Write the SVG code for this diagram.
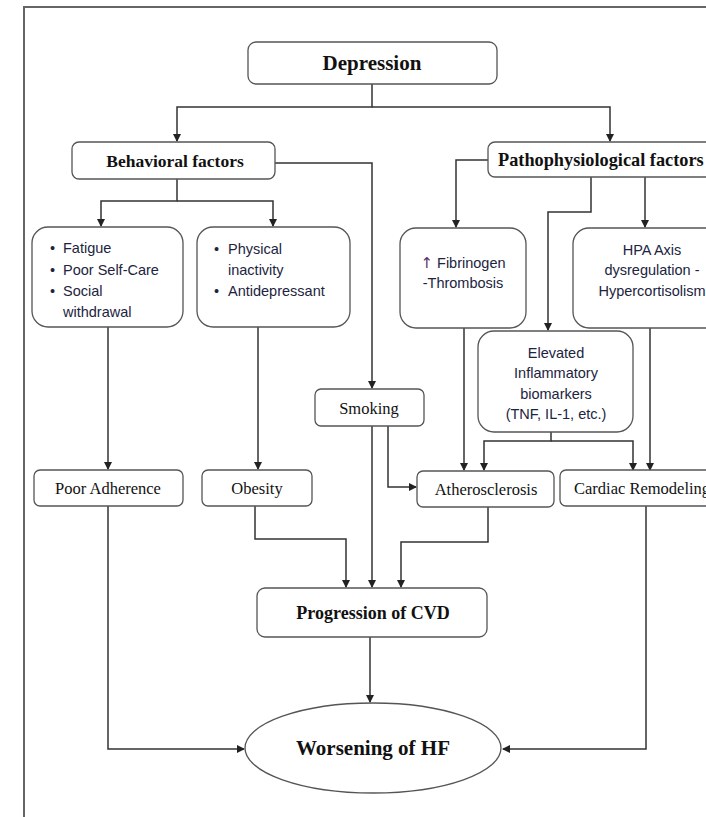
<svg xmlns="http://www.w3.org/2000/svg" width="706" height="817" viewBox="0 0 706 817">
<style>
.box{fill:#fff;stroke:#555;stroke-width:1.3}
.ln{fill:none;stroke:#333;stroke-width:1.5}
.sb{font-family:"Liberation Serif",serif;font-weight:bold;fill:#111;text-anchor:middle}
.sr{font-family:"Liberation Serif",serif;fill:#111;text-anchor:middle;font-size:16.5px}
.ss{font-family:"Liberation Sans",Arial,sans-serif;fill:#1c2440;font-size:14.5px}
.ssm{font-family:"Liberation Sans",Arial,sans-serif;fill:#1c2440;font-size:14.5px;text-anchor:middle}
</style>
<defs>
<marker id="ah" markerWidth="8" markerHeight="8" refX="7" refY="4" orient="auto" markerUnits="userSpaceOnUse">
<path d="M0,0 L8,4 L0,8 Z" fill="#222"/>
</marker>
</defs>
<rect width="706" height="817" fill="#fff"/>
<path d="M24,817 V7 H706" fill="none" stroke="#666" stroke-width="2"/>

<g id="connectors" class="ln">
<path d="M372,84 V107 H177 V141" marker-end="url(#ah)"/>
<path d="M372,107 H610 V141" marker-end="url(#ah)"/>
<path d="M177,179 V201 H101 V226" marker-end="url(#ah)"/>
<path d="M177,201 H273 V226" marker-end="url(#ah)"/>
<path d="M275,163 H372 V388" marker-end="url(#ah)"/>
<path d="M488,160 H456 V227" marker-end="url(#ah)"/>
<path d="M591,177 V212 H548 V330" marker-end="url(#ah)"/>
<path d="M645,177 V227" marker-end="url(#ah)"/>
<path d="M108,327 V469" marker-end="url(#ah)"/>
<path d="M258,327 V469" marker-end="url(#ah)"/>
<path d="M464,328 V470" marker-end="url(#ah)"/>
<path d="M650,328 V470" marker-end="url(#ah)"/>
<path d="M551,432 V441 H484 V470" marker-end="url(#ah)"/>
<path d="M551,441 H633 V470" marker-end="url(#ah)"/>
<path d="M388,426 V487 H416" marker-end="url(#ah)"/>
<path d="M372,426 V587" marker-end="url(#ah)"/>
<path d="M255,506 V539 H346 V587" marker-end="url(#ah)"/>
<path d="M488,507 V542 H401 V587" marker-end="url(#ah)"/>
<path d="M370,637 V702" marker-end="url(#ah)"/>
<path d="M108,506 V749 H244" marker-end="url(#ah)"/>
<path d="M646,506 V749 H503" marker-end="url(#ah)"/>
</g>

<g id="depression">
<rect class="box" x="248" y="42" width="249" height="42" rx="8"/>
<text class="sb" x="372" y="70" font-size="21">Depression</text>
</g>
<g id="behavioral">
<rect class="box" x="72" y="142" width="203" height="37" rx="7"/>
<text class="sb" x="175" y="167" font-size="17.5">Behavioral factors</text>
</g>
<g id="patho">
<rect class="box" x="488" y="142" width="240" height="35" rx="7"/>
<text class="sb" x="498" y="166" font-size="18.3" style="text-anchor:start">Pathophysiological factors</text>
</g>
<g id="fatigue">
<rect class="box" x="32" y="227" width="151" height="100" rx="16"/>
<text class="ss" x="50" y="253">•</text><text class="ss" x="63" y="253">Fatigue</text>
<text class="ss" x="50" y="275">•</text><text class="ss" x="63" y="275">Poor Self-Care</text>
<text class="ss" x="50" y="296">•</text><text class="ss" x="63" y="296">Social</text>
<text class="ss" x="63" y="317">withdrawal</text>
</g>
<g id="physical">
<rect class="box" x="197" y="227" width="153" height="100" rx="16"/>
<text class="ss" x="214" y="254">•</text><text class="ss" x="228" y="254">Physical</text>
<text class="ss" x="228" y="275">inactivity</text>
<text class="ss" x="214" y="296">•</text><text class="ss" x="228" y="296">Antidepressant</text>
</g>
<g id="fibrinogen">
<rect class="box" x="400" y="228" width="126" height="100" rx="16"/>
<text class="ssm" x="463" y="268"><tspan fill="#5a2a6a" font-family="DejaVu Sans, sans-serif" font-size="15">↑</tspan> Fibrinogen</text>
<text class="ssm" x="463" y="288">-Thrombosis</text>
</g>
<g id="hpa">
<rect class="box" x="573" y="228" width="160" height="100" rx="16"/>
<text class="ssm" x="652" y="255">HPA Axis</text>
<text class="ssm" x="652" y="275">dysregulation -</text>
<text class="ssm" x="652" y="296">Hypercortisolism</text>
</g>
<g id="elevated">
<rect class="box" x="478" y="331" width="155" height="101" rx="16"/>
<text class="ssm" x="556" y="358">Elevated</text>
<text class="ssm" x="556" y="378">Inflammatory</text>
<text class="ssm" x="556" y="399">biomarkers</text>
<text class="ssm" x="556" y="419">(TNF, IL-1, etc.)</text>
</g>
<g id="smoking">
<rect class="box" x="315" y="389" width="109" height="37" rx="6"/>
<text class="sr" x="369" y="414">Smoking</text>
</g>
<g id="adherence">
<rect class="box" x="34" y="470" width="149" height="36" rx="6"/>
<text class="sr" x="108" y="494">Poor Adherence</text>
</g>
<g id="obesity">
<rect class="box" x="202" y="470" width="110" height="36" rx="6"/>
<text class="sr" x="257" y="494">Obesity</text>
</g>
<g id="athero">
<rect class="box" x="417" y="471" width="137" height="36" rx="6"/>
<text class="sr" x="486" y="495">Atherosclerosis</text>
</g>
<g id="cardiac">
<rect class="box" x="560" y="470" width="170" height="36" rx="6"/>
<text class="sr" x="574" y="494" style="text-anchor:start">Cardiac Remodeling</text>
</g>
<g id="progression">
<rect class="box" x="257" y="588" width="230" height="49" rx="8"/>
<text class="sb" x="373" y="619" font-size="18">Progression of CVD</text>
</g>
<g id="worsening">
<ellipse class="box" cx="373" cy="748" rx="128" ry="45"/>
<text class="sb" x="373" y="755" font-size="21">Worsening of HF</text>
</g>
</svg>
